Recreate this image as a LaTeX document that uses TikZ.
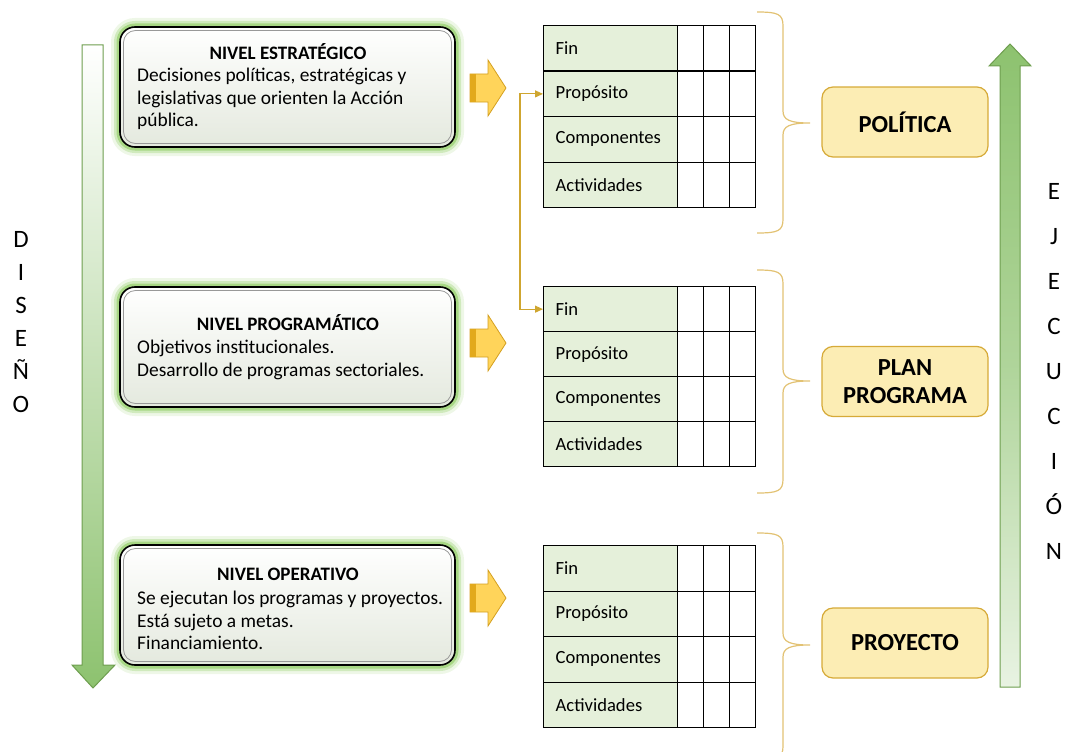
\documentclass[tikz,border=0pt]{standalone}
\usepackage{fontspec}
\setmainfont{Carlito}
\usetikzlibrary{arrows.meta,calc}
\definecolor{glowg}{HTML}{8CCB5E}
\definecolor{arrg}{HTML}{8DC26F}
\definecolor{arrgd}{HTML}{6E9E4F}
\definecolor{cellg}{HTML}{E5F0DA}
\definecolor{yfill}{HTML}{FFD45A}
\definecolor{yband}{HTML}{E2A91C}
\definecolor{yline}{HTML}{D4A020}
\definecolor{yboxf}{HTML}{FCEDB4}
\definecolor{yboxd}{HTML}{D6AA38}
\definecolor{gold}{HTML}{CFA630}
\definecolor{bracec}{HTML}{E2C273}
\definecolor{boxbot}{HTML}{E4E9DE}
\tikzset{
  levelbox/.style={minimum width=335pt, minimum height=120pt, rounded corners=15pt,
    preaction={draw=glowg, line width=18pt, opacity=.15},
    preaction={draw=glowg, line width=12pt, opacity=.3},
    preaction={draw=glowg, line width=7pt, opacity=.6},
    top color=white, bottom color=boxbot, draw=black, line width=1.6pt},
  innerbox/.style={minimum width=328pt, minimum height=113pt, rounded corners=12pt, draw=black!40, line width=.8pt},
  titletxt/.style={font=\fontsize{19}{22}\selectfont\bfseries, inner sep=0pt},
  bodytxt/.style={font=\fontsize{19.4}{22.8}\selectfont, align=left, inner sep=0pt, anchor=west},
  lcell/.style={draw=black, line width=1.3pt, fill=cellg, minimum width=134pt, minimum height=45.5pt,
    text width=112pt, inner xsep=12pt, align=left, anchor=north west, font=\fontsize{18.6}{20}\selectfont},
  ecell/.style={draw=black, line width=1.3pt, fill=white, minimum width=26pt, minimum height=45.5pt, inner sep=0pt, anchor=north west},
  ybox/.style={minimum width=166pt, minimum height=70pt, rounded corners=11pt, fill=yboxf, draw=yboxd, line width=1.2pt,
    align=center, font=\fontsize{24.5}{28.5}\selectfont\bfseries},
  conn/.style={draw=gold, line width=1.1pt},
  bracepath/.style={draw=bracec, line width=1.2pt},
  vert/.style={align=center, inner sep=0pt},
  garrow/.style={draw=arrgd, line width=1pt},
  yarrow/.style={fill=yfill, draw=yline, line width=.8pt}
}
\newcommand\mytable[3]{% prefix, top y, row height
  \foreach \lab [count=\i] in {Fin,Propósito,Componentes,Actividades}{
    \node[lcell, minimum height=#3pt] (#1r\i) at (543,{#2+(\i-1)*#3}) {\lab};
    \foreach \j in {0,1,2}{
      \node[ecell, minimum height=#3pt] (#1c\i\j) at ({677+26*\j},{#2+(\i-1)*#3}) {};
    }
  }
}
\newcommand\mybrace[3]{% top, mid, bottom
  \draw[bracepath] (757,#1) .. controls (778,#1) and (783,{#1+2}) .. (783,{#1+14})
    -- (783,{#2-12}) .. controls (783,{#2-3}) and (790,#2) .. (810,#2)
    .. controls (790,#2) and (783,{#2+3}) .. (783,{#2+12})
    -- (783,{#3-14}) .. controls (783,{#3-2}) and (778,#3) .. (757,#3);
}
\newcommand\blockarrow[1]{%
  \draw[yarrow] (470,{#1-14}) -- (488,{#1-14}) -- (488,{#1-28}) -- (506,#1) -- (488,{#1+28}) -- (488,{#1+14}) -- (470,{#1+14}) -- cycle;
  \fill[yband] (470.4,{#1-13.6}) rectangle (476,{#1+13.6});
}
\begin{document}
\begin{tikzpicture}[x=1pt,y=-1pt]
\useasboundingbox (0,0) rectangle (1068,752);

% green arrows
\shade[top color=white, bottom color=arrg, middle color=arrg!50]
  (82,45) -- (103,45) -- (103,665) -- (115,665) -- (93,688) -- (72,665) -- (82,665) -- cycle;
\draw[garrow] (82,45) -- (103,45) -- (103,665) -- (115,665) -- (93,688) -- (72,665) -- (82,665) -- cycle;
\shade[top color=arrg, bottom color=arrg!20, middle color=arrg!70]
  (1000,687) -- (1020,687) -- (1020,66) -- (1031,66) -- (1010,44) -- (989,66) -- (1000,66) -- cycle;
\draw[garrow] (1000,687) -- (1020,687) -- (1020,66) -- (1031,66) -- (1010,44) -- (989,66) -- (1000,66) -- cycle;

% vertical words
\node[vert, font=\fontsize{25}{33}\selectfont] (dis) at (21,322) {D\\I\\S\\E\\Ñ\\O};
\node[vert, font=\fontsize{25}{45}\selectfont] (eje) at (1054,371) {E\\J\\E\\C\\U\\C\\I\\Ó\\N};

% level boxes
\node[levelbox] (L1) at (287.5,87) {};
\node[innerbox] (L1i) at (L1) {};
\node[titletxt] (L1t) at (288,52) {NIVEL ESTRATÉGICO};
\node[bodytxt] (L1b) at (137,99) {Decisiones políticas, estratégicas y\\legislativas que orienten la Acción\\pública.};

\node[levelbox] (L2) at (287.5,347) {};
\node[innerbox] (L2i) at (L2) {};
\node[titletxt] (L2t) at (288,323) {NIVEL PROGRAMÁTICO};
\node[bodytxt] (L2b) at (137,360) {Objetivos institucionales.\\Desarrollo de programas sectoriales.};

\node[levelbox] (L3) at (287.5,605) {};
\node[innerbox] (L3i) at (L3) {};
\node[titletxt] (L3t) at (288,574) {NIVEL OPERATIVO};
\node[bodytxt] (L3b) at (137,620.5) {Se ejecutan los programas y proyectos.\\Está sujeto a metas.\\Financiamiento.};

% block arrows
\blockarrow{88}
\blockarrow{343}
\blockarrow{598}

% tables
\mytable{A}{25}{45.5}
\mytable{B}{286}{45}
\mytable{C}{545}{45.5}

% connector
\draw[conn, {Triangle[length=8pt,width=7pt]}-{Triangle[length=8pt,width=7pt]}] (Ar2.west) -- ++(-23,0) |- (Br1.west);

% braces
\mybrace{12}{123}{233}
\mybrace{270}{381}{493}
\mybrace{533}{645}{760}

% yellow boxes
\node[ybox] (P1) at (905,122) {POLÍTICA};
\node[ybox] (P2) at (905,381.5) {PLAN\\PROGRAMA};
\node[ybox] (P3) at (905,643) {PROYECTO};
\end{tikzpicture}
\end{document}
